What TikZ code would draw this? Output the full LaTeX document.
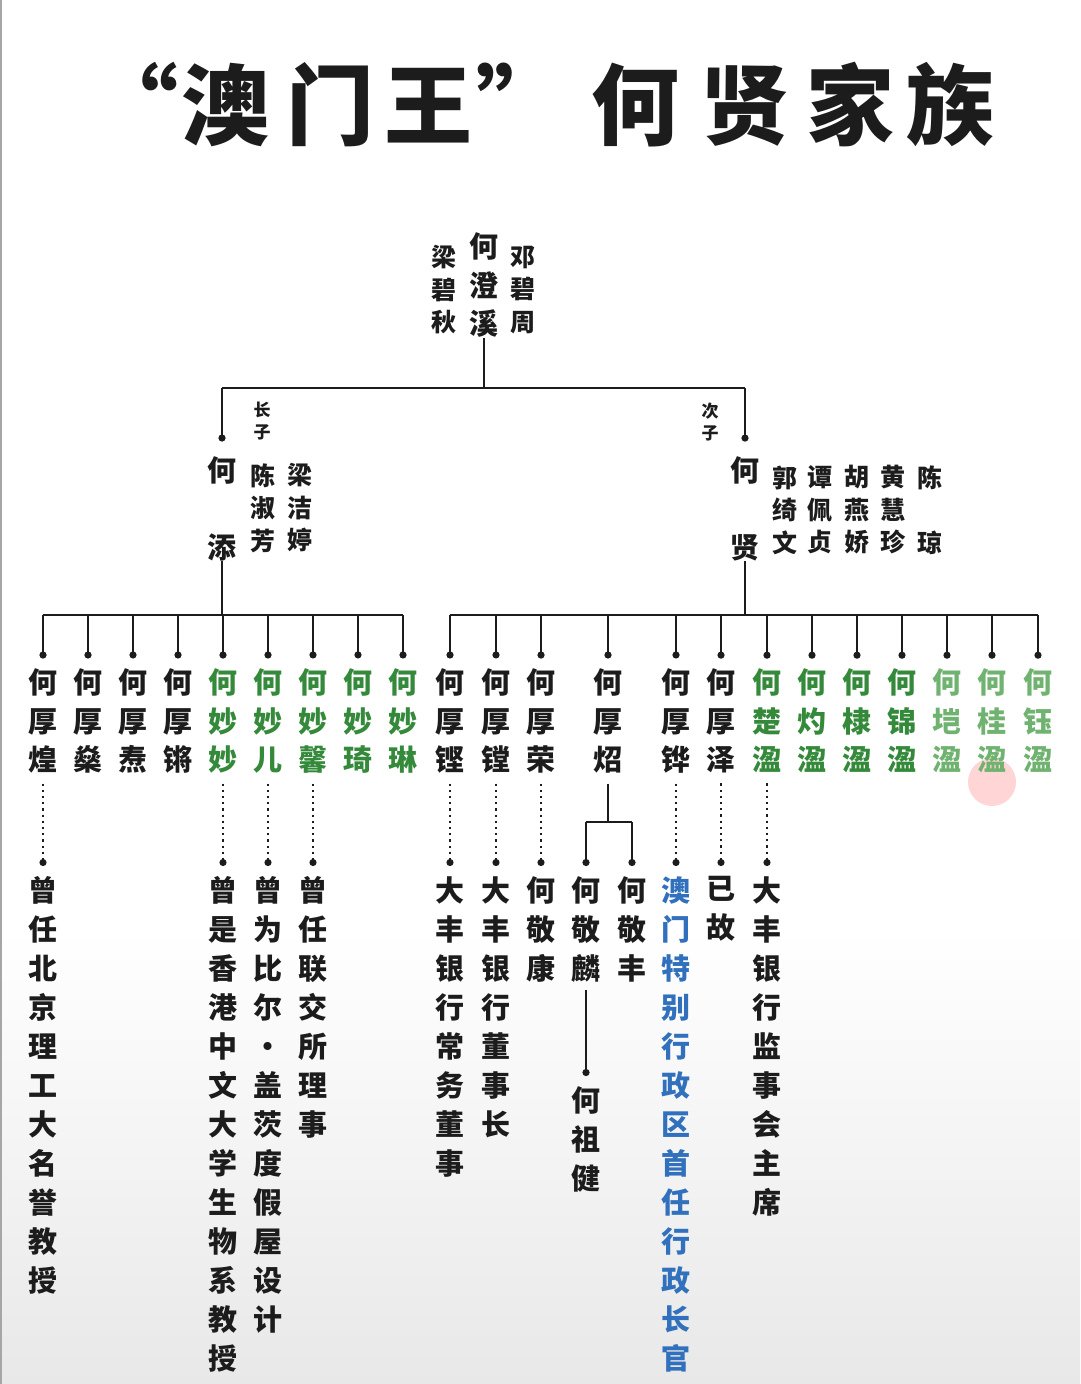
\documentclass[tikz,border=0pt]{standalone}
\usepackage{fontspec}
\newfontfamily\cjk{Noto Sans CJK SC}
\usetikzlibrary{arrows.meta}

\definecolor{ink}{RGB}{28,28,28}
\definecolor{leaf}{RGB}{52,138,58}
\definecolor{paleleaf}{RGB}{112,178,112}
\definecolor{sea}{RGB}{48,112,188}

\begin{document}
\begin{tikzpicture}[
  x=1pt, y=-1pt,
  mem/.style={align=center, inner sep=0pt, text=ink, font=\cjk\bfseries\fontsize{29}{38.5}\selectfont},
  wife/.style={align=center, inner sep=0pt, text=ink, font=\cjk\bfseries\fontsize{25}{32.5}\selectfont},
  note/.style={align=center, inner sep=0pt, text=ink, font=\cjk\bfseries\fontsize{17}{22}\selectfont},
  post/.style={mem, anchor=north, font=\cjk\bfseries\fontsize{29}{39}\selectfont},
  link/.style={draw=ink, line width=2.7pt},
  drop/.style={link, -{Circle[length=7pt]}},
  dots/.style={draw=ink, line width=2pt, dash pattern=on 2.2pt off 4pt, -{Circle[length=7pt]}}
]
\useasboundingbox (0,0) rectangle (1080,1384);
\fill[top color=white, bottom color=black!9] (0,930) rectangle (1080,1384);
\draw[black!35, line width=2pt] (1,0) -- (1,1384);
\fill[red!55, opacity=0.3] (992,782) circle (24);

% title
\foreach \x/\c/\n in {134/“/q1, 225/澳/q2, 330/门/q3, 428/王/q4, 520/”/q5,
                     635/何/q6, 745/贤/q7, 850/家/q8, 950/族/q9}
  \node[anchor=base, inner sep=0pt, text=ink, font=\cjk\bfseries\fontsize{88}{88}\selectfont] (\n) at (\x,138) {\c};

% generation 1
\node[mem] (root) at (484,285) {何\\澄\\溪};
\node[wife] (wl) at (444,290) {梁\\碧\\秋};
\node[wife] (wd) at (523,290) {邓\\碧\\周};

% generation 2
\node[mem] (tian) at (222,509) {何\\~\\添};
\node[mem] (xian) at (745,509) {何\\~\\贤};
\node[note] (eldest) at (262,421) {长\\子};
\node[note] (second) at (710,422) {次\\子};
\node[wife] (tw1) at (263,508) {陈\\淑\\芳};
\node[wife] (tw2) at (300,508) {梁\\洁\\婷};
\node[wife] (xw1) at (785,510) {郭\\绮\\文};
\node[wife] (xw2) at (820,510) {谭\\佩\\贞};
\node[wife] (xw3) at (857,510) {胡\\燕\\娇};
\node[wife] (xw4) at (893,510) {黄\\慧\\珍};
\node[wife] (xw5) at (930,510) {陈\\~\\琼};

\coordinate (topbar) at (0,388);
\draw[link] (root) -- (root |- topbar);
\draw[link] (tian |- topbar) -- (xian |- topbar);
\draw[drop, shorten >=15pt] (topbar -| tian) -- (tian);
\draw[drop, shorten >=15pt] (topbar -| xian) -- (xian);

% children of He Tian
\node[mem] (a1) at (43,721) {何\\厚\\煌};
\node[mem] (a2) at (88,721) {何\\厚\\燊};
\node[mem] (a3) at (133,721) {何\\厚\\焘};
\node[mem] (a4) at (178,721) {何\\厚\\锵};
\node[mem, text=leaf] (a5) at (223,721) {何\\妙\\妙};
\node[mem, text=leaf] (a6) at (268,721) {何\\妙\\儿};
\node[mem, text=leaf] (a7) at (313,721) {何\\妙\\馨};
\node[mem, text=leaf] (a8) at (358,721) {何\\妙\\琦};
\node[mem, text=leaf] (a9) at (403,721) {何\\妙\\琳};

% children of He Xian
\node[mem] (b1) at (450,721) {何\\厚\\铿};
\node[mem] (b2) at (496,721) {何\\厚\\镗};
\node[mem] (b3) at (541,721) {何\\厚\\荣};
\node[mem] (b4) at (608,721) {何\\厚\\炤};
\node[mem] (b5) at (676,721) {何\\厚\\铧};
\node[mem] (b6) at (721,721) {何\\厚\\泽};
\node[mem, text=leaf] (b7) at (767,721) {何\\楚\\溋};
\node[mem, text=leaf] (b8) at (812,721) {何\\灼\\溋};
\node[mem, text=leaf] (b9) at (857,721) {何\\棣\\溋};
\node[mem, text=leaf] (b10) at (902,721) {何\\锦\\溋};
\node[mem, text=paleleaf] (b11) at (947,721) {何\\垲\\溋};
\node[mem, text=paleleaf] (b12) at (992,721) {何\\桂\\溋};
\node[mem, text=paleleaf] (b13) at (1038,721) {何\\钰\\溋};

\coordinate (lbar) at (0,615);
\draw[link] (tian) -- (tian |- lbar);
\draw[link] (a1 |- lbar) -- (a9 |- lbar);
\foreach \k in {a1,a2,a3,a4,a5,a6,a7,a8,a9}
  \draw[drop, shorten >=10pt] (lbar -| \k) -- (\k);

\draw[link] (xian) -- (xian |- lbar);
\draw[link] (b1 |- lbar) -- (b13 |- lbar);
\foreach \k in {b1,b2,b3,b4,b5,b6,b7,b8,b9,b10,b11,b12,b13}
  \draw[drop, shorten >=10pt] (lbar -| \k) -- (\k);

% notes and grandchildren
\node[post] (p1) at (43,876) {曾\\任\\北\\京\\理\\工\\大\\名\\誉\\教\\授};
\node[post] (p5) at (223,876) {曾\\是\\香\\港\\中\\文\\大\\学\\生\\物\\系\\教\\授};
\node[post] (p6) at (268,876) {曾\\为\\比\\尔\\·\\盖\\茨\\度\\假\\屋\\设\\计};
\node[post] (p7) at (313,876) {曾\\任\\联\\交\\所\\理\\事};
\node[post] (q1) at (450,876) {大\\丰\\银\\行\\常\\务\\董\\事};
\node[post] (q2) at (496,876) {大\\丰\\银\\行\\董\\事\\长};
\node[post] (q3) at (541,876) {何\\敬\\康};
\node[post] (jl) at (586,876) {何\\敬\\麟};
\node[post] (jf) at (632,876) {何\\敬\\丰};
\node[post, text=sea] (q5) at (676,876) {澳\\门\\特\\别\\行\\政\\区\\首\\任\\行\\政\\长\\官};
\node[post] (q6) at (721,876) {已\\故};
\node[post] (q7) at (767,876) {大\\丰\\银\\行\\监\\事\\会\\主\\席};
\node[post] (zj) at (586,1086) {何\\祖\\健};

\draw[dots, shorten <=10pt, shorten >=10pt] (a1) -- (p1);
\draw[dots, shorten <=10pt, shorten >=10pt] (a5) -- (p5);
\draw[dots, shorten <=10pt, shorten >=10pt] (a6) -- (p6);
\draw[dots, shorten <=10pt, shorten >=10pt] (a7) -- (p7);
\draw[dots, shorten <=10pt, shorten >=10pt] (b1) -- (q1);
\draw[dots, shorten <=10pt, shorten >=10pt] (b2) -- (q2);
\draw[dots, shorten <=10pt, shorten >=10pt] (b3) -- (q3);
\draw[dots, shorten <=10pt, shorten >=10pt] (b5) -- (q5);
\draw[dots, shorten <=10pt, shorten >=10pt] (b6) -- (q6);
\draw[dots, shorten <=10pt, shorten >=10pt] (b7) -- (q7);

\coordinate (zbar) at (0,822);
\draw[link, shorten <=10pt] (b4) -- (b4 |- zbar);
\draw[link] (jl |- zbar) -- (jf |- zbar);
\draw[drop, shorten >=10pt] (zbar -| jl) -- (jl);
\draw[drop, shorten >=10pt] (zbar -| jf) -- (jf);
\draw[drop, shorten <=8pt, shorten >=10pt] (jl) -- (zj);

\end{tikzpicture}
\end{document}
